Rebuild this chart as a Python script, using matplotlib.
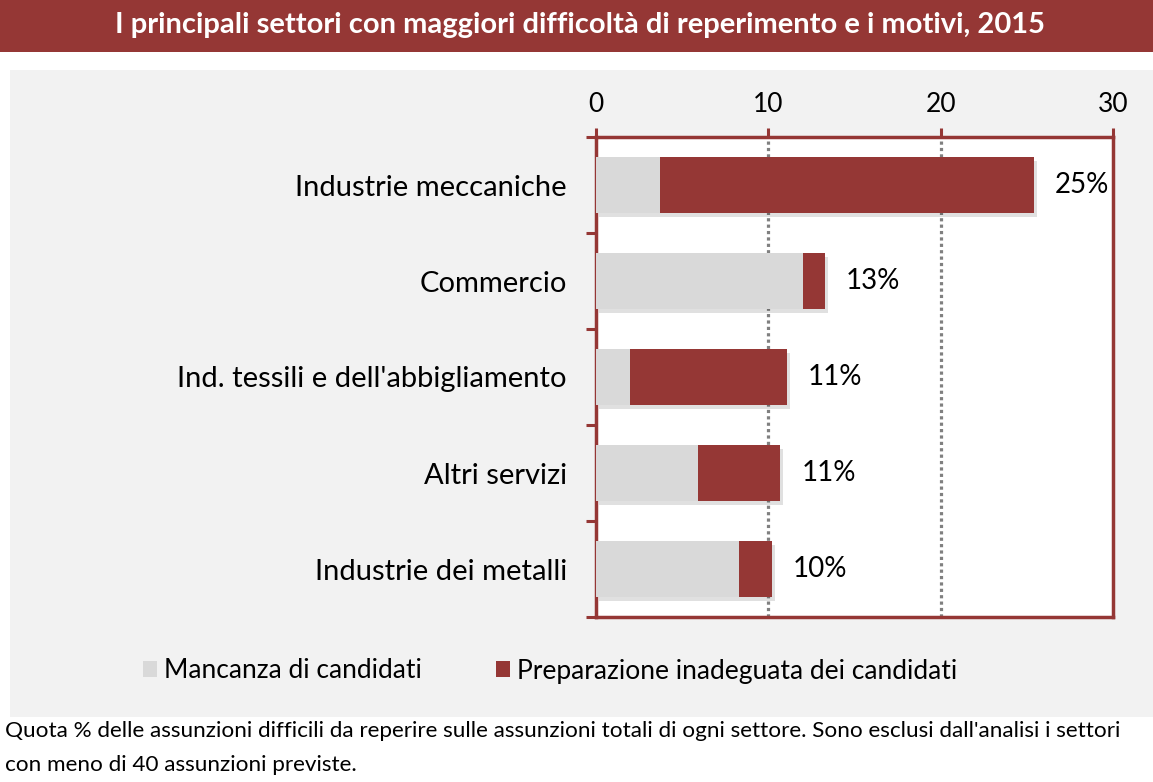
import matplotlib
matplotlib.use("Agg")
import matplotlib.pyplot as plt
import matplotlib.patheffects as pe
from matplotlib.patches import Rectangle, Patch

plt.rcParams['font.family'] = ['Lato', 'DejaVu Sans']

settori = ["Industrie meccaniche", "Commercio", "Ind. tessili e dell'abbigliamento",
           "Altri servizi", "Industrie dei metalli"]
mancanza = [3.7, 12.0, 2.0, 5.9, 8.3]
preparazione = [21.7, 1.3, 9.1, 4.8, 1.9]
etichette = ["25%", "13%", "11%", "11%", "10%"]
xticks = [0, 10, 20, 30]

RED = "#953735"
GRAY = "#d9d9d9"

fig = plt.figure(figsize=(11.53, 7.82), dpi=100)
W, H = 1153, 782

# title bar and panel
fig.patches.append(Rectangle((0, 1 - 52 / H), 1, 52 / H, transform=fig.transFigure,
                             facecolor=RED, edgecolor='none', zorder=-2))
fig.patches.append(Rectangle((10 / W, 1 - 717 / H), 1, (717 - 70) / H, transform=fig.transFigure,
                             facecolor="#f2f2f2", edgecolor='none', zorder=-2))
fig.text(0.503, 1 - 25 / H, "I principali settori con maggiori difficoltà di reperimento e i motivi, 2015",
         color='white', fontsize=21, fontweight='bold', ha='center', va='center')

ax = fig.add_axes([596 / W, 1 - 617 / H, (1113 - 596) / W, (617 - 137) / H])
ax.set_zorder(1)
ax.set_facecolor('white')

y = range(len(settori))
shadow = [pe.SimplePatchShadow(offset=(2, -3), shadow_rgbFace='black', alpha=0.12), pe.Normal()]
ax.barh(y, mancanza, height=0.58, color=GRAY, zorder=3, path_effects=shadow)
ax.barh(y, preparazione, left=mancanza, height=0.58, color=RED, zorder=3, path_effects=shadow)

for i, (a, b, t) in enumerate(zip(mancanza, preparazione, etichette)):
    ax.annotate(t, (a + b, i), xytext=(15, 0), textcoords='offset points',
                ha='left', va='center', fontsize=20, color='black')

ax.set_xlim(0, 30)
ax.set_ylim(4.5, -0.5)
ax.xaxis.tick_top()
ax.set_xticks(xticks)
ax.tick_params(axis='x', which='major', direction='out', length=6.5, width=2.2,
               color=RED, labelsize=19, pad=8)
ax.set_yticks(list(y))
ax.set_yticklabels(settori)
ax.tick_params(axis='y', which='major', length=0, labelsize=21, pad=21)
ax.set_yticks([-0.5, 0.5, 1.5, 2.5, 3.5, 4.5], minor=True)
ax.tick_params(axis='y', which='minor', direction='out', length=7, width=2.2, color=RED)

for s in ax.spines.values():
    s.set_color(RED)
    s.set_linewidth(2.5)

for xv in [10, 20]:
    ax.axvline(xv, color='#808080', linestyle=(0, (1, 1)), linewidth=2.3, zorder=1)

handles = [Patch(facecolor=GRAY, label="Mancanza di candidati"),
           Patch(facecolor=RED, label="Preparazione inadeguata dei candidati")]
fig.legend(handles=handles, loc='center', bbox_to_anchor=(0.477, 1 - 671 / H), ncol=2,
           frameon=False, fontsize=19, handlelength=0.55, handleheight=0.55,
           handletextpad=0.25, columnspacing=2.8)

fig.text(5 / W, 1 - 731 / H,
         "Quota % delle assunzioni difficili da reperire sulle assunzioni totali di ogni settore. "
         "Sono esclusi dall'analisi i settori", fontsize=16.2, va='center', ha='left')
fig.text(5 / W, 1 - 765 / H, "con meno di 40 assunzioni previste.", fontsize=16.2,
         va='center', ha='left')

fig.savefig("out.png", dpi=100)
